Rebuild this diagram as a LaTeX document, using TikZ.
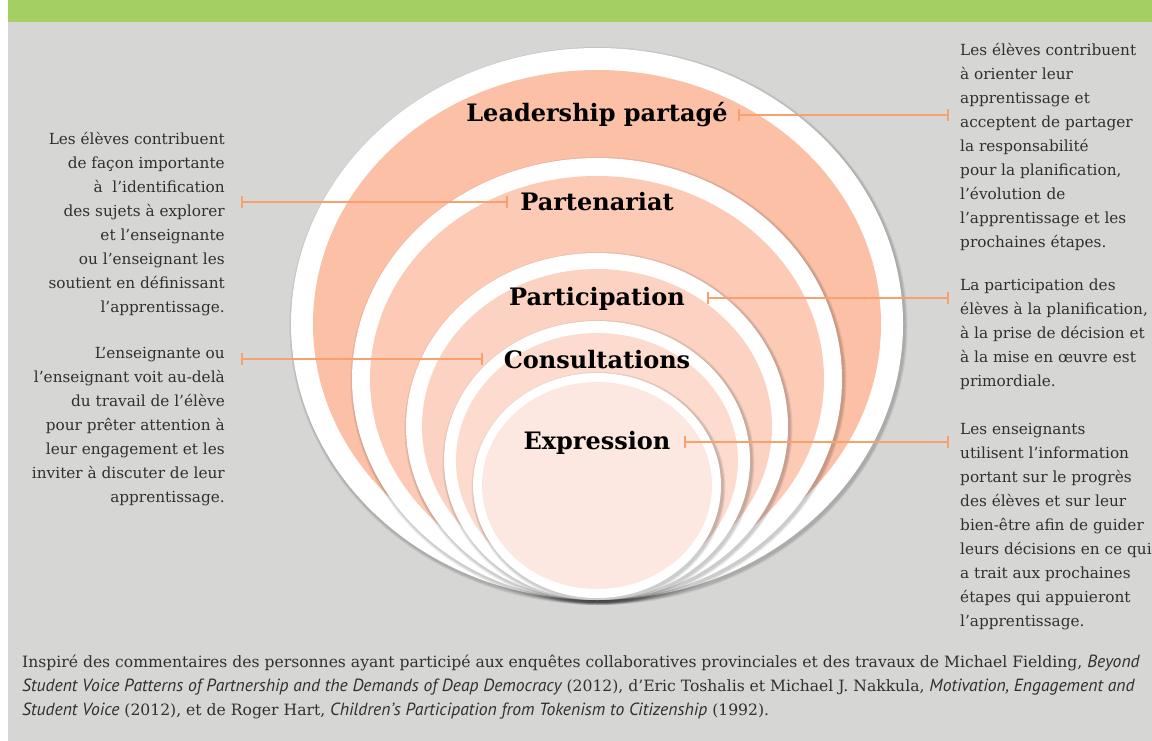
\documentclass[tikz,border=0pt]{standalone}
\usepackage{fontspec}
\setmainfont{DejaVu Serif}
\newfontfamily\citefont[Scale=1.13]{PT Sans}
\usetikzlibrary{positioning, arrows.meta}

\definecolor{panelgrey}{HTML}{D6D6D5}
\definecolor{bandgreen}{HTML}{A4CF63}
\definecolor{linkorange}{HTML}{F8A06E}
\definecolor{notegrey}{HTML}{303030}
\definecolor{ringA}{HTML}{FBC0A6}
\definecolor{ringB}{HTML}{FCCAB5}
\definecolor{ringC}{HTML}{FCD3C2}
\definecolor{ringD}{HTML}{FDDCCF}
\definecolor{ringE}{HTML}{FDE8E1}

\begin{document}
\begin{tikzpicture}[
    x=1pt, y=-1pt,
    ring_label/.style={font=\fontsize{24}{27}\selectfont\bfseries, text=black, inner sep=0pt, anchor=base},
    note_left/.style={font=\fontsize{15.3}{24}\selectfont, text=notegrey, align=right, anchor=north east, inner xsep=16pt, inner ysep=0pt},
    note_right/.style={font=\fontsize{15.3}{24}\selectfont, text=notegrey, align=left, anchor=north west, inner xsep=11pt, inner ysep=0pt},
    credit/.style={font=\fontsize{15.6}{24}\selectfont, text=notegrey, align=left, anchor=north west, inner sep=0pt},
    link/.style={draw=linkorange, line width=2pt, {Bar[width=12pt]}-{Bar[width=12pt]}}
  ]
  % --- Panel ---
  \useasboundingbox (0,0) rectangle (1152,741);
  \fill[white] (0,0) rectangle (1152,741);
  \fill[panelgrey] (8,22) rectangle (1152,741);
  \fill[bandgreen] (8,0) rectangle (1152,22);

  % --- Nested rings, outer to inner ---
  \foreach \cy/\rx/\ry/\gap/\tone in {324/306/276/22/ringA, 379/245/221/18/ringB,
      426.5/191/173.5/16/ringC, 460.5/153/139.5/12/ringD, 485.5/124/112.5/9/ringE}{
    \foreach \k in {1,2,3}
      \fill[black, opacity=0.07] (598.5,\cy+2) ellipse [x radius=\rx pt+\k pt, y radius=\ry pt+\k pt];
    \fill[white] (597,\cy) ellipse [x radius=\rx pt, y radius=\ry pt];
    \fill[\tone] (597,\cy) ellipse [x radius=\rx pt-\gap pt, y radius=\ry pt-\gap pt];
  }

  % --- Ring labels ---
  \node[ring_label] (lead) at (597,122) {Leadership partagé};
  \node[ring_label] (partner) at (597,211) {Partenariat};
  \node[ring_label] (partic) at (597,305) {Participation};
  \node[ring_label] (consult) at (597,368) {Consultations};
  \node[ring_label] (express) at (597,449) {Expression};

  % --- Notes ---
  \node[note_right] (leadnote) at (949,43) {Les élèves contribuent\\à orienter leur\\apprentissage et\\acceptent de partager\\la responsabilité\\pour la planification,\\l’évolution de\\l’apprentissage et les\\prochaines étapes.};
  \node[note_left] (partnernote) at (241,132) {Les élèves contribuent\\de façon importante\\à ~l’identification\\des sujets à explorer\\et l’enseignante\\ou l’enseignant les\\soutient en définissant\\l’apprentissage.};
  \node[note_right] (particnote) at (949,279) {La participation des\\élèves à la planification,\\à la prise de décision et\\à la mise en œuvre est\\primordiale.};
  \node[note_left] (consultnote) at (241,347) {L’enseignante ou\\l’enseignant voit au-delà\\du travail de l’élève\\pour prêter attention à\\leur engagement et les\\inviter à discuter de leur\\apprentissage.};
  \node[note_right] (expressnote) at (949,423) {Les enseignants\\utilisent l’information\\portant sur le progrès\\des élèves et sur leur\\bien-être afin de guider\\leurs décisions en ce qui\\a trait aux prochaines\\étapes qui appuieront\\l’apprentissage.};

  % --- Connectors ---
  \draw[link, shorten <=10pt] (lead.east) -- (lead.east -| leadnote.west);
  \draw[link, shorten <=12pt] (partner.west) -- (partner.west -| partnernote.east);
  \draw[link, shorten <=22pt] (partic.east) -- (partic.east -| particnote.west);
  \draw[link, shorten <=21pt] (consult.west) -- (consult.west -| consultnote.east);
  \draw[link, shorten <=13pt] (express.east) -- (express.east -| expressnote.west);

  % --- Source ---
  \node[credit] (source) at (22,655) {Inspiré des commentaires des personnes ayant participé aux enquêtes collaboratives provinciales et des travaux de Michael Fielding, {\citefont\itshape Beyond}\\{\citefont\itshape Student Voice Patterns of Partnership and the Demands of Deap Democracy}~(2012), d’Eric Toshalis et Michael J. Nakkula, {\citefont\itshape Motivation, Engagement and}\\{\citefont\itshape Student Voice} (2012), et de Roger Hart, {\citefont\itshape Children’s Participation from Tokenism to Citizenship} (1992).};
\end{tikzpicture}
\end{document}
